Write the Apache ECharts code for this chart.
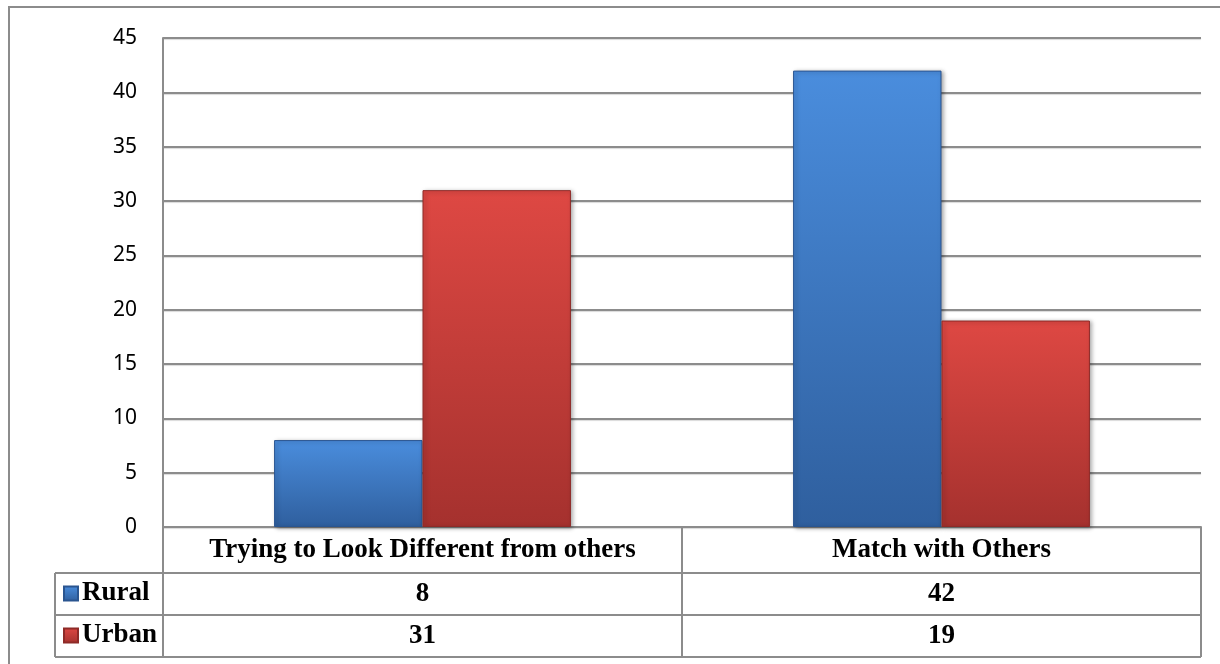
<!DOCTYPE html>
<html>
<head>
<meta charset="utf-8">
<script src="https://cdn.jsdelivr.net/npm/echarts@6/dist/echarts.min.js"></script>
<style>
  html, body { margin: 0; padding: 0; background: #ffffff; }
  #chart { width: 1220px; height: 664px; }
</style>
</head>
<body>
<div id="chart"></div>
<script>
// Chart data
var categories = ['Trying to Look Different from others', 'Match with Others'];
var seriesNames = ['Rural', 'Urban'];
var ruralValues = [8, 42];
var urbanValues = [31, 19];
var yTicks = { min: 0, max: 45, interval: 5 };

// Plot area geometry (pixels)
var G = { left: 163, top: 38, right: 1201, bottom: 527 };
var ROW_H = 42;         // height of a data-table row
var HEAD_H = 46;        // height of the category header row
var LEG_LEFT = 55;      // left edge of the series-name column
var LINE = '#8c8c8c';
var TABLE_FONT = { fontFamily: '"Liberation Serif", "Times New Roman", serif', fontWeight: 'bold', fontSize: 27, color: '#000' };

function barFill(top, bottom) {
  return new echarts.graphic.LinearGradient(0, 0, 0, 1, [
    { offset: 0, color: top },
    { offset: 1, color: bottom }
  ]);
}

var rowY1 = G.bottom + HEAD_H;
var rowY2 = rowY1 + ROW_H;
var rowY3 = rowY2 + ROW_H;
var midX = (G.left + G.right) / 2;

function hLine(x1, x2, y) {
  return { type: 'line', shape: { x1: x1, y1: y, x2: x2, y2: y }, style: { stroke: LINE, lineWidth: 2 }, z: 10 };
}
function vLine(x, y1, y2) {
  return { type: 'line', shape: { x1: x, y1: y1, x2: x, y2: y2 }, style: { stroke: LINE, lineWidth: 2 }, z: 10 };
}

var chart = echarts.init(document.getElementById('chart'), null, { renderer: 'canvas' });

var option = {
  backgroundColor: '#ffffff',
  animation: false,
  grid: { left: G.left, top: G.top, width: G.right - G.left, height: G.bottom - G.top, containLabel: false },
  legend: {
    orient: 'vertical',
    left: LEG_LEFT + 8,
    top: rowY1 + 7,
    padding: 0,
    itemGap: 15,
    itemWidth: 14,
    itemHeight: 14,
    icon: 'rect',
    textStyle: Object.assign({ lineHeight: 27, padding: [0, 0, 0, -1] }, TABLE_FONT),
    data: seriesNames
  },
  xAxis: [
    {
      type: 'category', data: categories, position: 'bottom',
      axisLine: { show: true, lineStyle: { color: LINE, width: 2 } },
      axisTick: { show: false },
      axisLabel: Object.assign({ margin: 10, interval: 0 }, TABLE_FONT)
    },
    {
      type: 'category', data: ruralValues.map(String), position: 'bottom', offset: HEAD_H,
      axisLine: { show: false }, axisTick: { show: false },
      axisLabel: Object.assign({ margin: 8, interval: 0 }, TABLE_FONT)
    },
    {
      type: 'category', data: urbanValues.map(String), position: 'bottom', offset: HEAD_H + ROW_H,
      axisLine: { show: false }, axisTick: { show: false },
      axisLabel: Object.assign({ margin: 8, interval: 0 }, TABLE_FONT)
    }
  ],
  yAxis: {
    type: 'value', min: yTicks.min, max: yTicks.max, interval: yTicks.interval,
    axisLine: { show: true, lineStyle: { color: LINE, width: 2 } },
    axisTick: { show: false },
    axisLabel: { margin: 26, fontFamily: '"Noto Sans", "Open Sans", sans-serif', fontSize: 21, color: '#000' },
    splitLine: { lineStyle: { color: LINE, width: 2, shadowColor: 'rgba(0,0,0,0.15)', shadowOffsetY: 1, shadowBlur: 1 } }
  },
  series: [
    {
      name: seriesNames[0], type: 'bar', data: ruralValues, xAxisIndex: 0,
      barWidth: '28.6%', barGap: '0%',
      itemStyle: {
        color: barFill('#4a8ddd', '#2f5f9e'),
        borderColor: '#2a5590', borderWidth: 1,
        shadowColor: 'rgba(0,0,0,0.35)', shadowBlur: 4, shadowOffsetX: 2, shadowOffsetY: 1
      }
    },
    {
      name: seriesNames[1], type: 'bar', data: urbanValues, xAxisIndex: 0,
      barWidth: '28.6%', barGap: '0%',
      itemStyle: {
        color: barFill('#de4843', '#a5312e'),
        borderColor: '#8e2a27', borderWidth: 1,
        shadowColor: 'rgba(0,0,0,0.35)', shadowBlur: 4, shadowOffsetX: 2, shadowOffsetY: 1
      }
    }
  ],
  graphic: [
    // outer chart border
    { type: 'rect', shape: { x: 9, y: 7, width: 1240, height: 700 }, style: { fill: 'none', stroke: LINE, lineWidth: 2 }, z: 10 },
    // data table rules
    hLine(LEG_LEFT, G.right, rowY1),
    hLine(LEG_LEFT, G.right, rowY2),
    hLine(LEG_LEFT, G.right, rowY3),
    vLine(G.left, G.bottom, rowY3),
    vLine(LEG_LEFT, rowY1, rowY3),
    vLine(midX, G.bottom, rowY3),
    vLine(G.right, G.bottom, rowY3)
  ]
};

chart.setOption(option);
</script>
</body>
</html>
